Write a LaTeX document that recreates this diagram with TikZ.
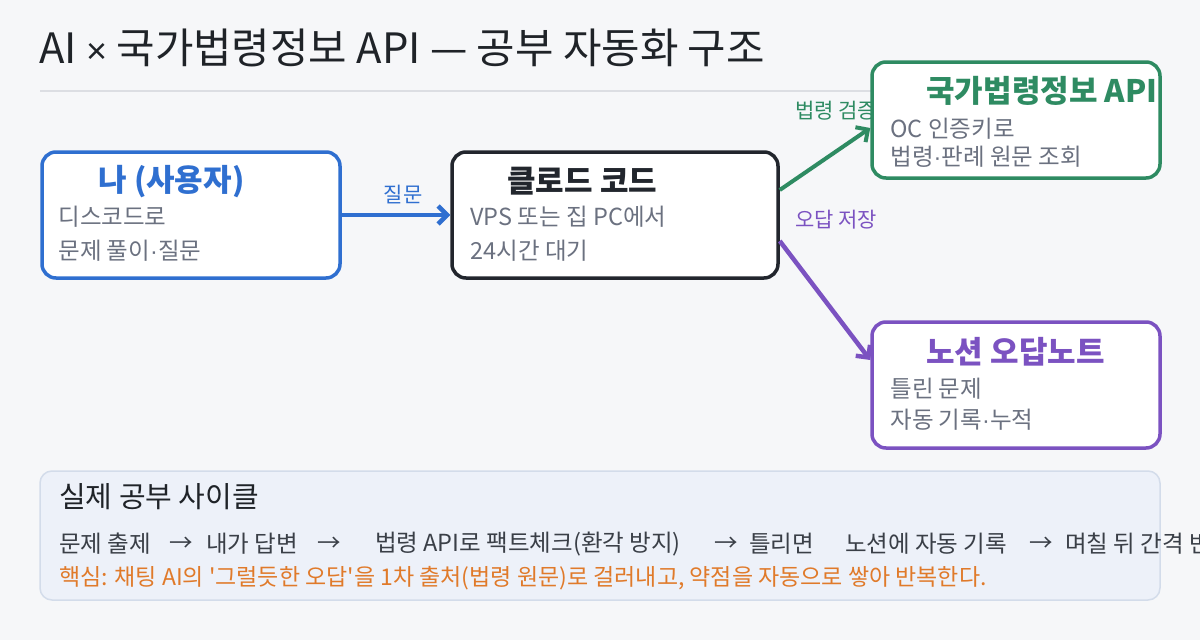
\documentclass[tikz,border=0pt]{standalone}
\usepackage{fontspec}
\setmainfont{Noto Sans CJK KR}
\newfontfamily\keyfont{Noto Sans CJK KR}
\newfontfamily\latinsym{Liberation Sans}
\newcommand{\mdot}{{\latinsym ·}}
\usetikzlibrary{arrows.meta}
\definecolor{bgc}{HTML}{F6F7F9}
\definecolor{titlec}{HTML}{1F2328}
\definecolor{rulec}{HTML}{DCDEE3}
\definecolor{bluec}{HTML}{2F6FD0}
\definecolor{darkc}{HTML}{22262D}
\definecolor{greenc}{HTML}{2E8B62}
\definecolor{purplec}{HTML}{7B52C1}
\definecolor{grayc}{HTML}{6B7180}
\definecolor{cyclefill}{HTML}{EDF1F9}
\definecolor{cycleline}{HTML}{D3DCEA}
\definecolor{orangec}{HTML}{E07A2A}
\definecolor{linec}{HTML}{3A3F47}
\tikzset{
  card/.style={draw, line width=3.5pt, rounded corners=14pt, fill=white,
    minimum width=#1, inner sep=0pt},
  cardtitle/.style={anchor=west, inner sep=0pt, font=\fontsize{31}{33}\selectfont\bfseries},
  cardline/.style={anchor=west, inner sep=0pt, text=grayc, font=\fontsize{23.5}{26}\selectfont},
  edgelabel/.style={inner sep=0pt, font=\fontsize{21}{23}\selectfont},
  flow/.style={line width=4.5pt, -{Straight Barb[length=9pt,width=18pt]}},
  cyc/.style={anchor=west, inner sep=0pt, text=linec, font=\fontsize{23.5}{26}\selectfont},
}
\begin{document}
\begin{tikzpicture}[x=1pt,y=-1pt]
\path[use as bounding box, fill=bgc] (0,0) rectangle (1200,640);
\clip (0,0) rectangle (1200,640);
% title
\node[anchor=west, inner sep=0pt, text=titlec, font=\fontsize{41.8}{44}\selectfont] (title) at (39,48) {AI {\latinsym\fontsize{36}{38}\selectfont ×} 국가법령정보 API — 공부 자동화 구조};
\coordinate (ruleL) at (40,91);
\coordinate (ruleR) at (1160,91);
\draw[rulec, line width=1.5pt] (ruleL) -- (ruleR);
% edge labels (behind cards)
\node[edgelabel, text=bluec] (lq) at (403,195) {질문};
\node[edgelabel, text=greenc] (lg) at (836,111) {법령 검증};
\node[edgelabel, text=purplec] (lp) at (836,220) {오답 저장};
% cards
\node[card=298pt, minimum height=126pt, draw=bluec] (user) at (191,215) {};
\node[card=326pt, minimum height=126pt, draw=darkc] (claude) at (615,215) {};
\node[card=288pt, minimum height=116pt, draw=greenc] (api) at (1016,120) {};
\node[card=288pt, minimum height=126pt, draw=purplec] (notion) at (1016,385) {};
% card texts
\node[cardtitle, text=bluec] (userT) at ([shift={(58pt,-31pt)}]user.north west) {나 (사용자)};
\node[cardline] (userA) at ([shift={(18pt,-66pt)}]user.north west) {디스코드로};
\node[cardline] (userB) at ([shift={(18pt,-100pt)}]user.north west) {문제 풀이\mdot 질문};
\node[cardtitle, text=darkc] (claudeT) at ([shift={(57pt,-31pt)}]claude.north west) {클로드 코드};
\node[cardline] (claudeA) at ([shift={(20pt,-66pt)}]claude.north west) {VPS 또는 집 PC에서};
\node[cardline] (claudeB) at ([shift={(20pt,-100pt)}]claude.north west) {24시간 대기};
\node[cardtitle, text=greenc] (apiT) at ([shift={(56pt,-31pt)}]api.north west) {국가법령정보 API};
\node[cardline] (apiA) at ([shift={(20pt,-68pt)}]api.north west) {OC 인증키로};
\node[cardline] (apiB) at ([shift={(20pt,-97pt)}]api.north west) {법령\mdot 판례 원문 조회};
\node[cardtitle, text=purplec] (notionT) at ([shift={(56pt,-31pt)}]notion.north west) {노션 오답노트};
\node[cardline] (notionA) at ([shift={(20pt,-68pt)}]notion.north west) {틀린 문제};
\node[cardline] (notionB) at ([shift={(20pt,-99pt)}]notion.north west) {자동 기록\mdot 누적};
% connectors
\draw[flow, bluec] (user.east) -- (claude.west);
\draw[flow, greenc, line width=4pt] ([yshift=25pt]claude.east) -- ([yshift=-8pt]api.west);
\draw[flow, purplec] ([yshift=-26pt]claude.east) -- ([yshift=25pt]notion.west);
% cycle box
\node[draw=cycleline, fill=cyclefill, line width=1.5pt, rounded corners=12pt,
  minimum width=1120pt, minimum height=129pt, inner sep=0pt] (cycle) at (600,535.5) {};
\node[anchor=west, inner sep=0pt, text=titlec, font=\fontsize{29}{32}\selectfont] (cycT) at (59,497) {실제 공부 사이클};
\node[cyc] (s1) at (59,544) {문제 출제};
\node[cyc] (a1) at (169,544) {→};
\node[cyc] (s2) at (206,544) {내가 답변};
\node[cyc] (a2) at (317,544) {→};
\node[cyc] (s3) at (375,544) {법령 API로 팩트체크(환각 방지)};
\node[cyc] (a3) at (714,544) {→};
\node[cyc] (s4) at (749,544) {틀리면};
\node[cyc] (s5) at (845,544) {노션에 자동 기록};
\node[cyc] (a4) at (1029,544) {→};
\node[cyc] (s6) at (1065,544) {며칠 뒤 간격 반복};
\node[anchor=west, inner sep=0pt, text=orangec, font=\keyfont\fontsize{23}{25}\selectfont] (key) at (59,578) {핵심: 채팅 AI의 '그럴듯한 오답'을 1차 출처(법령 원문)로 걸러내고, 약점을 자동으로 쌓아 반복한다.};
\end{tikzpicture}
\end{document}
